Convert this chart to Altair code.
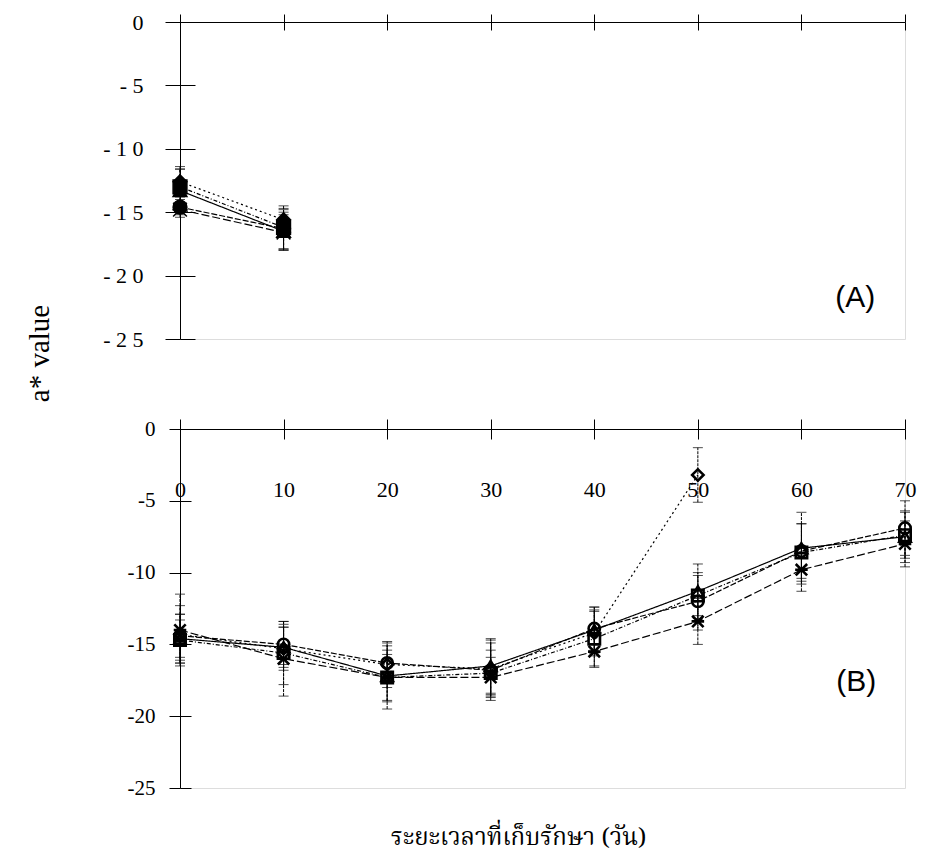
import altair as alt
import pandas as pd

# ---------------- data ----------------
x_ticks = [0, 10, 20, 30, 40, 50, 60, 70]
y_ticks = [0, -5, -10, -15, -20, -25]
series_names = ["diamond", "square", "triangle", "circle", "cross"]

# Panel A (only day 0 and day 10 measured)
a_days = [0, 10]
a_diamond = [-12.6, -15.6]
a_square = [-13.0, -16.2]
a_triangle = [-13.3, -16.5]
a_circle = [-14.6, -16.3]
a_cross = [-14.8, -16.6]
a_diamond_sd = [1.2, 0.8]
a_square_sd = [1.4, 1.7]
a_triangle_sd = [1.7, 1.5]
a_circle_sd = [0.6, 1.6]
a_cross_sd = [0.6, 1.4]

# Panel B
b_days = [0, 10, 20, 30, 40, 50, 60, 70]
b_diamond = [-14.3, -15.3, -16.4, -16.7, -14.2, -3.2]
b_triangle = [-14.6, -15.2, -17.2, -16.5, -14.0, -11.3, -8.3, -7.5]
b_circle = [-14.4, -15.0, -16.3, -16.8, -13.9, -12.0, -8.5, -6.9]
b_square = [-14.7, -15.6, -17.3, -17.0, -14.6, -11.6, -8.6, -7.4]
b_cross = [-14.0, -16.0, -17.3, -17.3, -15.5, -13.4, -9.8, -8.0]
b_diamond_sd = [2.0, 1.5, 1.6, 1.8, 1.6, 1.9]
b_triangle_sd = [1.7, 1.4, 1.8, 1.9, 1.6, 1.9, 2.5, 1.8]
b_circle_sd = [1.5, 1.4, 1.4, 2.1, 1.5, 2.0, 1.9, 1.9]
b_square_sd = [1.4, 2.2, 1.6, 1.6, 1.9, 1.4, 2.0, 1.6]
b_cross_sd = [2.5, 2.6, 2.2, 1.4, 1.1, 1.6, 1.5, 1.6]

panel_labels = [("(A)", 65.2, -21.8), ("(B)", 65.3, -17.6)]
y_title = "a* value"
x_title = "ระยะเวลาที่เก็บรักษา (วัน)"


def make_df(days, vals, sds):
    rows = []
    for name, v, s in zip(series_names, vals, sds):
        for d, m, e in zip(days, v, s):
            rows.append({"series": name, "day": d, "value": m, "lo": m - e, "hi": m + e})
    return pd.DataFrame(rows)


df_a = make_df(a_days, [a_diamond, a_square, a_triangle, a_circle, a_cross],
               [a_diamond_sd, a_square_sd, a_triangle_sd, a_circle_sd, a_cross_sd])
df_b = make_df(b_days, [b_diamond, b_square, b_triangle, b_circle, b_cross],
               [b_diamond_sd, b_square_sd, b_triangle_sd, b_circle_sd, b_cross_sd])

cross_path = "M-1,-1L1,1M-1,1L1,-1M-1.1,0L1.1,0"
shape_scale = alt.Scale(domain=series_names,
                        range=["diamond", "square", "triangle-up", "circle", cross_path])
dash_scale = alt.Scale(domain=series_names,
                       range=[[2, 3], [4, 2, 1, 2], [1, 0], [6, 2], [8, 3]])

W = 725
SERIF = "Liberation Serif"


def panel(df, height, label, spaced, xt, yt, x_labels, ylab_pad, ylab_size, y_axis_title):
    xs = alt.Scale(domain=[0, 70], nice=False, zero=False)
    ys = alt.Scale(domain=[-25, 0], nice=False)
    if spaced:
        lexpr = ("datum.value == 0 ? '0' : (abs(datum.value) < 10 ? '- ' + format(abs(datum.value), 'd') : "
                 "'- ' + slice(format(abs(datum.value), 'd'), 0, 1) + ' ' + slice(format(abs(datum.value), 'd'), 1))")
    else:
        lexpr = "datum.value == 0 ? '0' : '-' + format(abs(datum.value), 'd')"

    left_kw = dict(orient="left", values=y_ticks, domain=True, domainColor="black", domainWidth=1,
                   ticks=True, tickSize=yt, tickColor="black", tickWidth=1,
                   labels=True, labelExpr=lexpr, labelFont=SERIF, labelFontSize=ylab_size,
                   labelColor="black", labelPadding=ylab_pad, grid=False)
    if y_axis_title:
        left_kw.update(title=y_title, titleFont=SERIF, titleFontSize=29, titleFontWeight="normal",
                       titleColor="black", titleAngle=270, titleX=-141, titleY=331,
                       titleAlign="center", titleBaseline="middle")
    else:
        left_kw.update(title=None)
    ax_left = alt.Axis(**left_kw)
    ax_right = alt.Axis(orient="right", offset=-W, values=y_ticks, domain=False, ticks=True,
                        tickSize=yt, tickColor="black", tickWidth=1, labels=False, grid=False, title=None)
    ax_top = alt.Axis(orient="top", values=x_ticks, domain=True, domainColor="black", domainWidth=1,
                      ticks=True, tickSize=xt, tickColor="black", tickWidth=1, labels=False,
                      grid=False, title=None)
    bot_kw = dict(orient="bottom", offset=-height, values=x_ticks, domain=False, ticks=True,
                  tickSize=xt, tickColor="black", tickWidth=1, grid=False, title=None)
    if x_labels:
        bot_kw.update(labels=True, labelFont=SERIF, labelFontSize=22, labelColor="black",
                      labelPadding=40, labelFlush=False, labelOverlap=False, format="d")
    else:
        bot_kw.update(labels=False)
    ax_bot = alt.Axis(**bot_kw)

    base = alt.Chart(df)
    rules = base.mark_rule(color="black", strokeWidth=1, strokeDash=[3, 1]).encode(
        x=alt.X("day:Q", scale=xs, axis=ax_top),
        y=alt.Y("lo:Q", scale=ys, axis=ax_left),
        y2="hi:Q",
    )
    caps_hi = base.mark_tick(color="black", thickness=1, size=10, orient="horizontal").encode(
        x=alt.X("day:Q", scale=xs, axis=ax_bot),
        y=alt.Y("hi:Q", scale=ys, axis=ax_right),
    )
    caps_lo = base.mark_tick(color="black", thickness=1, size=10, orient="horizontal").encode(
        x=alt.X("day:Q", scale=xs, axis=None),
        y=alt.Y("lo:Q", scale=ys, axis=None),
    )
    lines = base.mark_line(color="black", strokeWidth=1.2).encode(
        x=alt.X("day:Q", scale=xs, axis=None),
        y=alt.Y("value:Q", scale=ys, axis=None),
        detail="series:N",
        strokeDash=alt.StrokeDash("series:N", scale=dash_scale, legend=None),
    )
    if spaced:
        pts = base.mark_point(filled=True, fill="black", stroke="black", strokeWidth=1.5,
                              size=190, opacity=1)
    else:
        pts = base.mark_point(filled=False, color="black", strokeWidth=2.6, size=130, opacity=1)
    pts = pts.encode(
        x=alt.X("day:Q", scale=xs, axis=None),
        y=alt.Y("value:Q", scale=ys, axis=None),
        shape=alt.Shape("series:N", scale=shape_scale, legend=None),
    )
    lab_df = pd.DataFrame([{"t": label[0], "x": label[1], "y": label[2]}])
    txt = alt.Chart(lab_df).mark_text(font="Liberation Sans", fontSize=30, color="black").encode(
        x=alt.X("x:Q", scale=xs, axis=None),
        y=alt.Y("y:Q", scale=ys, axis=None),
        text="t:N",
    )
    return alt.layer(rules, caps_hi, caps_lo, lines, pts, txt).resolve_axis(
        x="independent", y="independent"
    ).properties(width=W, height=height)


pa = panel(df_a, 317, panel_labels[0], True, 8, 15, False, 22, 22, True)
pb = panel(df_b, 359, panel_labels[1], False, 10, 11, True, 14, 21, False).properties(
    title=alt.TitleParams(x_title, orient="bottom", anchor="middle", frame="group",
                          font="Noto Serif Thai, Noto Sans Thai, Loma, Garuda, Norasi, Tlwg Typo, sans-serif",
                          fontSize=24, fontWeight="normal", color="black", offset=28, dx=-24)
)

chart = alt.vconcat(pa, pb, spacing=14).properties(
    padding={"left": 24, "top": 10, "right": 20, "bottom": 14}
).configure_view(stroke=None).configure(background="white")

chart.save("out.html", embed_options={"renderer": "svg", "actions": False})
